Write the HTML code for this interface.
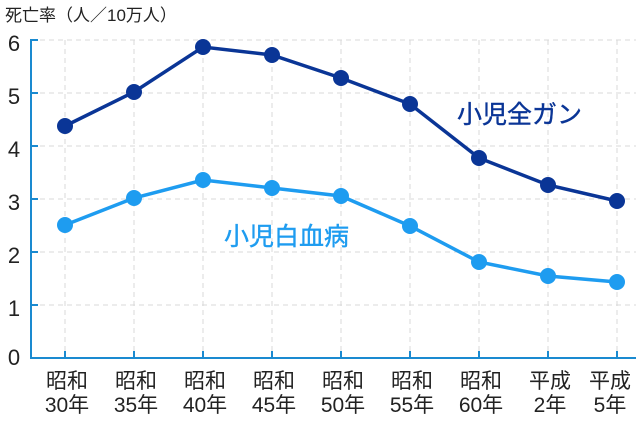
<!DOCTYPE html>
<html><head><meta charset="utf-8"><style>
body{margin:0;background:#fff;}
svg{display:block;font-family:"Liberation Sans","Noto Sans CJK JP",sans-serif;}
</style></head><body>
<svg width="640" height="421" viewBox="0 0 640 421" xmlns="http://www.w3.org/2000/svg">
<text x="5" y="21" font-size="17" fill="#222">死亡率（人／10万人）</text>
<g stroke="#d8d8d8" stroke-width="1" stroke-dasharray="5,4">
<line x1="31" y1="40" x2="636" y2="40"/><line x1="31" y1="93" x2="636" y2="93"/>
<line x1="31" y1="146" x2="636" y2="146"/><line x1="31" y1="199" x2="636" y2="199"/>
<line x1="31" y1="252" x2="636" y2="252"/><line x1="31" y1="305" x2="636" y2="305"/>
<line x1="65" y1="40" x2="65" y2="357"/><line x1="134" y1="40" x2="134" y2="357"/>
<line x1="203" y1="40" x2="203" y2="357"/><line x1="272" y1="40" x2="272" y2="357"/>
<line x1="341" y1="40" x2="341" y2="357"/><line x1="410" y1="40" x2="410" y2="357"/>
<line x1="479" y1="40" x2="479" y2="357"/><line x1="548" y1="40" x2="548" y2="357"/>
<line x1="617" y1="40" x2="617" y2="357"/>
</g>
<g stroke="#1a8ad0" stroke-width="2">
<line x1="31" y1="39" x2="31" y2="358"/><line x1="30" y1="358" x2="636" y2="358"/>
<line x1="31" y1="40" x2="38" y2="40"/><line x1="31" y1="93" x2="38" y2="93"/><line x1="31" y1="146" x2="38" y2="146"/>
<line x1="31" y1="199" x2="38" y2="199"/><line x1="31" y1="252" x2="38" y2="252"/><line x1="31" y1="305" x2="38" y2="305"/>
<line x1="65" y1="351" x2="65" y2="358"/><line x1="134" y1="351" x2="134" y2="358"/><line x1="203" y1="351" x2="203" y2="358"/>
<line x1="272" y1="351" x2="272" y2="358"/><line x1="341" y1="351" x2="341" y2="358"/><line x1="410" y1="351" x2="410" y2="358"/>
<line x1="479" y1="351" x2="479" y2="358"/><line x1="548" y1="351" x2="548" y2="358"/><line x1="617" y1="351" x2="617" y2="358"/>
</g>
<g font-size="22" fill="#222" text-anchor="middle">
<text x="14" y="51">6</text><text x="14" y="104">5</text><text x="14" y="157">4</text>
<text x="14" y="210">3</text><text x="14" y="263">2</text><text x="14" y="316">1</text><text x="14" y="365">0</text>
</g>
<g font-size="21" fill="#222" text-anchor="middle">
<text x="67" y="388">昭和</text><text x="67" y="412">30年</text>
<text x="136" y="388">昭和</text><text x="136" y="412">35年</text>
<text x="205" y="388">昭和</text><text x="205" y="412">40年</text>
<text x="274" y="388">昭和</text><text x="274" y="412">45年</text>
<text x="343" y="388">昭和</text><text x="343" y="412">50年</text>
<text x="412" y="388">昭和</text><text x="412" y="412">55年</text>
<text x="481" y="388">昭和</text><text x="481" y="412">60年</text>
<text x="550" y="388">平成</text><text x="550" y="412">2年</text>
<text x="610" y="388">平成</text><text x="610" y="412">5年</text>
</g>
<polyline fill="none" stroke="#0a3596" stroke-width="3.5" points="65,126 134,92 203,47 272,55 341,78 410,104 479,158 548,185 617,201"/>
<g fill="#0a3596">
<circle cx="65" cy="126" r="8"/><circle cx="134" cy="92" r="8"/><circle cx="203" cy="47" r="8"/>
<circle cx="272" cy="55" r="8"/><circle cx="341" cy="78" r="8"/><circle cx="410" cy="104" r="8"/>
<circle cx="479" cy="158" r="8"/><circle cx="548" cy="185" r="8"/><circle cx="617" cy="201" r="8"/>
</g>
<polyline fill="none" stroke="#1e9cf0" stroke-width="3.5" points="65,225 134,198 203,180 272,188 341,196 410,226 479,262 548,276 617,282"/>
<g fill="#1e9cf0">
<circle cx="65" cy="225" r="8"/><circle cx="134" cy="198" r="8"/><circle cx="203" cy="180" r="8"/>
<circle cx="272" cy="188" r="8"/><circle cx="341" cy="196" r="8"/><circle cx="410" cy="226" r="8"/>
<circle cx="479" cy="262" r="8"/><circle cx="548" cy="276" r="8"/><circle cx="617" cy="282" r="8"/>
</g>
<text x="457" y="123" font-size="25" fill="#0a3596" stroke="#0a3596" stroke-width="0.4">小児全ガン</text>
<text x="224" y="245" font-size="25" fill="#1e9cf0" stroke="#1e9cf0" stroke-width="0.4">小児白血病</text>
</svg>
</body></html>
